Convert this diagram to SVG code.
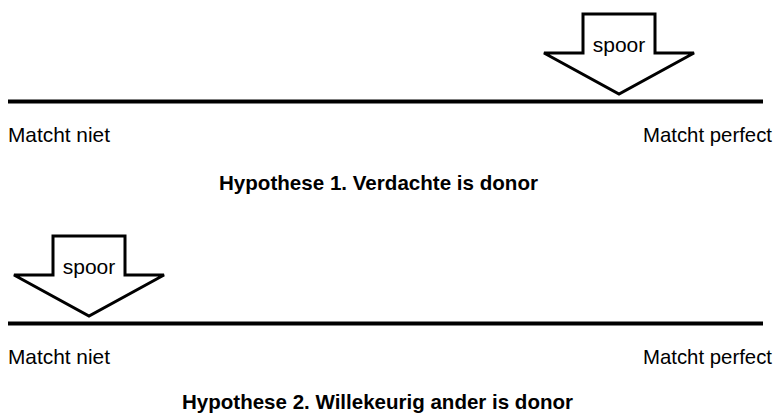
<svg xmlns="http://www.w3.org/2000/svg" width="775" height="414" viewBox="0 0 775 414">
<style>
.axis{stroke:#000;stroke-width:4;fill:none}
.arrow{fill:#fff;stroke:#000;stroke-width:3;stroke-linejoin:miter}
.lbl{font-family:"Liberation Sans",Arial,sans-serif;font-size:21px;fill:#000}
.ttl{font-family:"Liberation Sans",Arial,sans-serif;font-size:20.5px;font-weight:bold;fill:#000}
.sp{font-family:"Liberation Sans",Arial,sans-serif;font-size:21px;fill:#000;text-anchor:middle}
</style>
<rect width="775" height="414" fill="#fff"/>
<g id="connectors">
<line class="axis" x1="8" y1="101.5" x2="763" y2="101.5"/>
<line class="axis" x1="8" y1="323.5" x2="763" y2="323.5"/>
</g>
<g id="spoor1">
<polygon class="arrow" points="583,14 655,14 655,53 694,53 619,94 544,53 583,53"/>
<text class="sp" x="619" y="52">spoor</text>
</g>
<g id="spoor2">
<polygon class="arrow" points="53,236 125,236 125,275 164,275 89,316 14,275 53,275"/>
<text class="sp" x="89" y="274">spoor</text>
</g>
<g id="labels1">
<text class="lbl" x="8" y="142" textLength="102" lengthAdjust="spacingAndGlyphs">Matcht niet</text>
<text class="lbl" x="643" y="142" textLength="129" lengthAdjust="spacingAndGlyphs">Matcht perfect</text>
<text class="ttl" x="219" y="190" textLength="319" lengthAdjust="spacingAndGlyphs">Hypothese 1. Verdachte is donor</text>
</g>
<g id="labels2">
<text class="lbl" x="8" y="364" textLength="102" lengthAdjust="spacingAndGlyphs">Matcht niet</text>
<text class="lbl" x="643" y="364" textLength="129" lengthAdjust="spacingAndGlyphs">Matcht perfect</text>
<text class="ttl" x="182" y="409" textLength="391" lengthAdjust="spacingAndGlyphs">Hypothese 2. Willekeurig ander is donor</text>
</g>
</svg>
